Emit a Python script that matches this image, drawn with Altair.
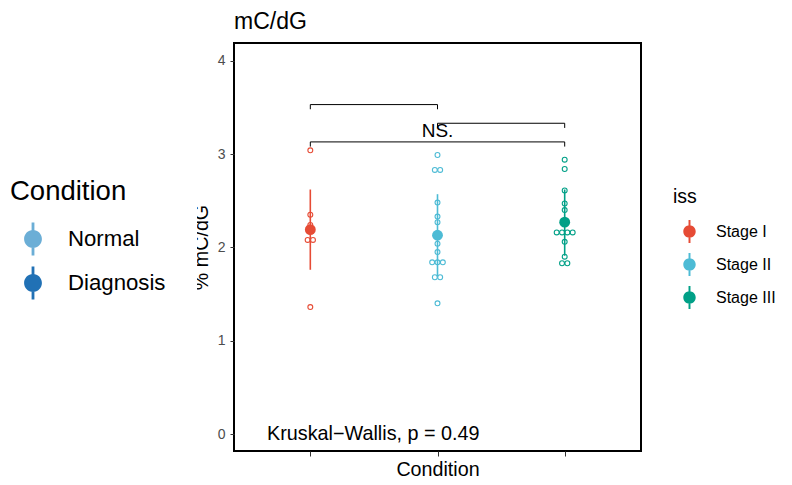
import altair as alt
import pandas as pd

# ---- data ----
stage_names = ["Stage I", "Stage II", "Stage III"]
stage_colors = ["#E64B35", "#4DBBD5", "#00A087"]

stage1_vals = [3.04, 2.35, 2.24, 2.19, 2.08, 2.08, 1.36]
stage2_vals = [2.99, 2.83, 2.83, 2.48, 2.33, 2.27, 2.04, 1.95, 1.84, 1.84, 1.84, 1.68, 1.68, 1.40]
stage3_vals = [2.94, 2.84, 2.61, 2.47, 2.40, 2.16, 2.16, 2.16, 2.16, 2.06, 1.90, 1.83, 1.83]

means = [2.19, 2.13, 2.27]
err_lo = [1.76, 1.69, 1.91]
err_hi = [2.62, 2.57, 2.62]

bracket_from = ["Stage I", "Stage II", "Stage I"]
bracket_to = ["Stage II", "Stage III", "Stage III"]
bracket_y = [3.53, 3.33, 3.13]
bracket_tip = 0.05
ns_label = "NS."
ns_y = 3.25

kw_label = "Kruskal\u2212Wallis, p = 0.49"
kw_y = 0.0

cond_names = ["Normal", "Diagnosis"]
cond_colors = ["#6BAED6", "#2171B5"]

y_ticks = [0, 1, 2, 3, 4]
y_domain = [-0.182, 4.19]

FONT = "Liberation Sans"

# ---- tables ----
rows = []
for name, vals in zip(stage_names, [stage1_vals, stage2_vals, stage3_vals]):
    counts = {}
    for v in vals:
        counts[v] = counts.get(v, 0) + 1
    seen = {}
    for v in vals:
        i = seen.get(v, 0)
        seen[v] = i + 1
        rows.append({"iss": name, "value": v, "off": i - (counts[v] - 1) / 2})
raw = pd.DataFrame(rows)

summ = pd.DataFrame({"iss": stage_names, "mean": means, "lo": err_lo, "hi": err_hi})

br = pd.DataFrame({"g1": bracket_from, "g2": bracket_to, "yb": bracket_y})
tips = pd.DataFrame(
    [{"g": g, "y1": y, "y0": y - bracket_tip} for g1, g2, y in zip(bracket_from, bracket_to, bracket_y) for g in (g1, g2)]
)
ns_df = pd.DataFrame({"iss": ["Stage II"], "y": [ns_y], "label": [ns_label]})
kw_df = pd.DataFrame({"y": [kw_y], "label": [kw_label]})
cond_df = pd.DataFrame({"Condition": cond_names, "y": [-10, -10]})

# ---- shared encodings ----
xscale = alt.Scale(type="point", domain=stage_names, padding=0.6)
xaxis = alt.Axis(title="Condition", labels=False, tickSize=5, tickColor="#333333",
                 titleFontSize=19.7, titleFont=FONT, titleFontWeight="normal",
                 titleColor="black", titlePadding=3)
yscale = alt.Scale(domain=y_domain, nice=False, zero=False)
yaxis = alt.Axis(title="% mC/dG", values=y_ticks, tickSize=4, tickColor="#333333",
                 labelFontSize=14, labelFont=FONT, labelColor="#4D4D4D", labelPadding=5,
                 titleFontSize=19.7, titleFont=FONT, titleFontWeight="normal",
                 titleColor="black", titlePadding=6)
cscale = alt.Scale(domain=stage_names, range=stage_colors)

def X(field):
    return alt.X(f"{field}:N", scale=xscale, axis=xaxis)

def Y(field):
    return alt.Y(f"{field}:Q", scale=yscale, axis=yaxis)

sym_path = ("M-0.085,-1H0.085V-0.4H-0.085Z M-0.085,0.4H0.085V1H-0.085Z "
            "M0.54,0A0.54,0.54,0,1,1,-0.54,0A0.54,0.54,0,1,1,0.54,0Z")

iss_legend = alt.Legend(
    title="iss", orient="none", legendX=439, legendY=144.5, padding=0,
    symbolType=sym_path, symbolSize=529, symbolOpacity=1, symbolOffset=4,
    labelOffset=14, rowPadding=9, titlePadding=12,
    titleFontSize=19.5, titleFont=FONT, titleFontWeight="normal", titleColor="black",
    labelFontSize=16, labelFont=FONT, labelColor="black",
)
cond_legend = alt.Legend(
    title="Condition", orient="none", legendX=-255, legendY=104, padding=31,
    fillColor="white",
    symbolType=sym_path, symbolSize=1089, symbolOpacity=1, symbolOffset=5.5,
    labelOffset=17.5, rowPadding=10, titlePadding=16,
    titleFontSize=27.5, titleFont=FONT, titleFontWeight="normal", titleColor="black",
    labelFontSize=22.2, labelFont=FONT, labelColor="black",
)

points = alt.Chart(raw).mark_point(filled=False, size=24, strokeWidth=1.1, opacity=1).encode(
    x=X("iss"),
    y=Y("value"),
    xOffset=alt.XOffset("off:Q", scale=alt.Scale(domain=[-1.5, 1.5], range=[-8, 8])),
    stroke=alt.Stroke("iss:N", scale=cscale, legend=None),
)

errs = alt.Chart(summ).mark_rule(strokeWidth=1.6).encode(
    x=X("iss"),
    y=Y("lo"),
    y2="hi:Q",
    stroke=alt.Stroke("iss:N", scale=cscale, legend=None),
)

mean_pts = alt.Chart(summ).mark_point(filled=True, size=118, opacity=1).encode(
    x=X("iss"),
    y=Y("mean"),
    color=alt.Color("iss:N", scale=cscale, legend=iss_legend),
)

br_h = alt.Chart(br).mark_rule(color="black", strokeWidth=1).encode(
    x=X("g1"), x2="g2:N", y=Y("yb"),
)
br_t = alt.Chart(tips).mark_rule(color="black", strokeWidth=1).encode(
    x=X("g"), y=Y("y1"), y2="y0:Q",
)
ns_txt = alt.Chart(ns_df).mark_text(fontSize=19, font=FONT, color="black", baseline="middle").encode(
    x=X("iss"), y=Y("y"), text="label:N",
)
kw_txt = alt.Chart(kw_df).mark_text(fontSize=19.8, font=FONT, color="black", align="left",
                                    baseline="middle").encode(
    x=alt.value(33), y=Y("y"), text="label:N",
)

main = alt.layer(points, errs, mean_pts, br_h, br_t, ns_txt, kw_txt)

dummy = alt.Chart(cond_df).mark_point(filled=True, opacity=1, clip=True, size=100).encode(
    y=Y("y"),
    color=alt.Color("Condition:N", scale=alt.Scale(domain=cond_names, range=cond_colors),
                    legend=cond_legend),
)

chart = alt.layer(main, dummy).resolve_scale(color="independent").properties(
    width=407, height=408,
    title=alt.TitleParams("mC/dG", anchor="start", frame="group", fontSize=23, font=FONT,
                          fontWeight="normal", color="black", offset=9),
    autosize=alt.AutoSizeParams(type="none"),
    padding={"left": 234, "top": 43, "right": 151, "bottom": 34},
).configure_view(
    stroke="black", strokeWidth=2
).configure_axis(
    grid=False, domain=False
)

chart.save("out.html", embed_options={"renderer": "svg", "actions": False})
